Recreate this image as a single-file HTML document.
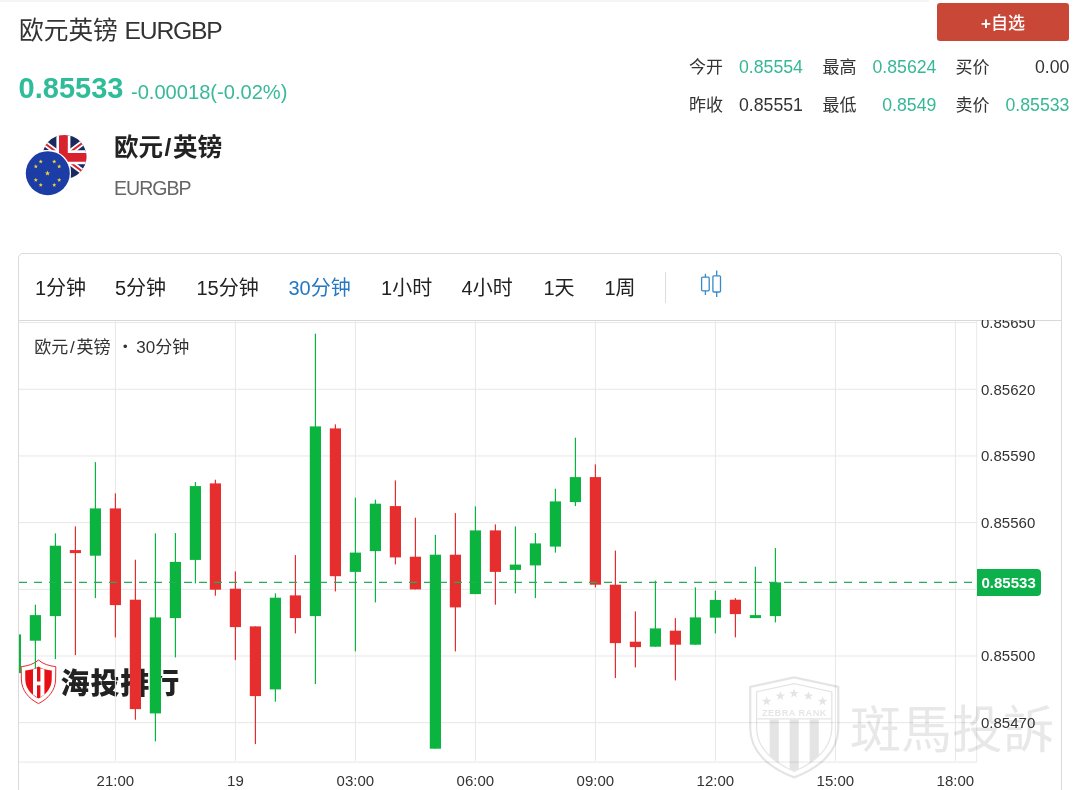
<!DOCTYPE html>
<html lang="zh-CN">
<head>
<meta charset="utf-8">
<title>欧元英镑 EURGBP</title>
<style>
html,body{margin:0;padding:0;background:#fff}
body{width:1074px;height:790px;position:relative;overflow:hidden;font-family:"Liberation Sans","Noto Sans CJK SC",sans-serif;color:#333}
.a{position:absolute;white-space:nowrap;line-height:1;margin:0;padding:0}

.topstrip{left:0;top:0;width:929px;height:1.5px;background:#f5f5f5}
.title{left:19px;top:18.5px;font-size:24.7px;color:#333;font-weight:400}
.title .l{letter-spacing:-0.05em}
.price{left:18.6px;top:74.2px;font-size:29px;font-weight:700;color:#2fbc99}
.chg{left:131px;top:82.2px;font-size:20.1px;color:#38b998}
.name{left:114px;top:136.3px;font-size:24.5px;font-weight:700;color:#222}
.code{left:114px;top:178.5px;font-size:19.5px;color:#666;letter-spacing:-0.05em}
.btn{left:937px;top:3px;width:132px;height:37.5px;background:#c94737;border-radius:3px;color:#fff;font-size:17px;font-weight:500;text-align:center;line-height:42.3px}
.st{font-size:17px;color:#333}
.r{text-align:right;font-size:17.7px;margin-top:-0.5px;margin-left:0.4px}
.teal{color:#36b796}
.card{left:18px;top:253px;width:1044px;height:560px;border:1px solid #dadada;border-radius:5px;box-sizing:border-box}
.sep{left:19px;top:319.8px;width:1042px;height:1px;background:#d8d8d8}
.tab{font-size:20px;color:#222;top:277.8px}
.tab.on{color:#2578c2}
.vsep{left:665px;top:272px;width:1px;height:31px;background:#ddd}
.legend{left:34.3px;top:338.6px;font-size:17px;color:#333}
.tl{font-size:15px;color:#333;top:772.8px;width:60px;text-align:center}
.pl{font-size:15px;color:#333;left:981px;margin-top:-0.5px}
.cur{left:977px;top:569px;width:64px;height:27px;background:#0db14b;border-radius:0 4px 4px 0;color:#fff;font-weight:700;font-size:15px;line-height:27px;text-indent:4.5px}
.wm1{left:60.5px;top:669.5px;font-size:29px;font-weight:900;color:#222;letter-spacing:0.9px}
.wm2{left:850px;top:704.5px;font-size:51px;color:#000;opacity:.085;font-weight:400}
</style>
</head>
<body>
<div class="a topstrip"></div>
<div class="a title">欧元英镑 <span class="l">EURGBP</span></div>
<div class="a price">0.85533</div>
<div class="a chg">-0.00018(-0.02%)</div>

<svg class="a" style="left:22px;top:132px" width="70" height="68" viewBox="22 132 70 68">
  <defs>
    <clipPath id="ukc"><circle cx="64.4" cy="156.9" r="22"/></clipPath>
  </defs>
  <circle cx="64.4" cy="156.9" r="22.8" fill="#fff"/>
  <g clip-path="url(#ukc)">
    <rect x="42" y="134" width="46" height="46" fill="#1b2a5e"/>
    <path d="M23.4 127.3 L103.4 187.3 M103.4 127.3 L23.4 187.3" stroke="#fff" stroke-width="5.6"/>
    <path d="M23.4 127.3 L103.4 187.3 M103.4 127.3 L23.4 187.3" stroke="#d8232f" stroke-width="2"/>
    <path d="M63.4 134 V180 M42 157.3 H88" stroke="#fff" stroke-width="14"/>
    <path d="M63.4 134 V180 M42 157.3 H88" stroke="#d8232f" stroke-width="8.8"/>
  </g>
  <circle cx="47.8" cy="173.2" r="23.2" fill="#fff"/>
  <circle cx="47.8" cy="173.2" r="22" fill="#1c3da6"/>
  <g fill="#f4d531" id="stars"><polygon points="47.50,170.60 48.17,172.38 50.07,172.47 48.58,173.65 49.09,175.48 47.50,174.43 45.91,175.48 46.42,173.65 44.93,172.47 46.83,172.38"/><polygon points="54.25,159.41 54.79,160.86 56.34,160.93 55.13,161.89 55.54,163.39 54.25,162.53 52.96,163.39 53.37,161.89 52.16,160.93 53.71,160.86"/><polygon points="59.19,164.35 59.73,165.80 61.28,165.87 60.07,166.84 60.48,168.33 59.19,167.47 57.90,168.33 58.31,166.84 57.10,165.87 58.65,165.80"/><polygon points="59.19,177.85 59.73,179.30 61.28,179.37 60.07,180.34 60.48,181.83 59.19,180.97 57.90,181.83 58.31,180.34 57.10,179.37 58.65,179.30"/><polygon points="54.25,182.79 54.79,184.24 56.34,184.31 55.13,185.28 55.54,186.77 54.25,185.92 52.96,186.77 53.37,185.28 52.16,184.31 53.71,184.24"/><polygon points="40.75,182.79 41.29,184.24 42.84,184.31 41.63,185.28 42.04,186.77 40.75,185.92 39.46,186.77 39.87,185.28 38.66,184.31 40.21,184.24"/><polygon points="35.81,177.85 36.35,179.30 37.90,179.37 36.69,180.34 37.10,181.83 35.81,180.97 34.52,181.83 34.93,180.34 33.72,179.37 35.27,179.30"/><polygon points="35.81,164.35 36.35,165.80 37.90,165.87 36.69,166.84 37.10,168.33 35.81,167.47 34.52,168.33 34.93,166.84 33.72,165.87 35.27,165.80"/><polygon points="40.75,159.41 41.29,160.86 42.84,160.93 41.63,161.89 42.04,163.39 40.75,162.53 39.46,163.39 39.87,161.89 38.66,160.93 40.21,160.86"/></g>
</svg>

<div class="a name">欧元<span style="margin:0 1.6px">/</span>英镑</div>
<div class="a code">EURGBP</div>

<div class="a btn"><b>+</b>自选</div>

<div class="a st" style="left:689px;top:59.3px">今开</div>
<div class="a st r teal" style="left:732px;width:70.5px;top:59.3px">0.85554</div>
<div class="a st" style="left:822.5px;top:59.3px">最高</div>
<div class="a st r teal" style="left:866px;width:70px;top:59.3px">0.85624</div>
<div class="a st" style="left:955.5px;top:59.3px">买价</div>
<div class="a st r" style="left:999px;width:70px;top:59.3px">0.00</div>
<div class="a st" style="left:689px;top:97.1px">昨收</div>
<div class="a st r" style="left:732px;width:70.5px;top:97.1px">0.85551</div>
<div class="a st" style="left:822.5px;top:97.1px">最低</div>
<div class="a st r teal" style="left:866px;width:70px;top:97.1px">0.8549</div>
<div class="a st" style="left:955.5px;top:97.1px">卖价</div>
<div class="a st r teal" style="left:999px;width:70px;top:97.1px">0.85533</div>

<div class="a card"></div>
<div class="a sep"></div>
<div class="a tab" style="left:35px">1分钟</div>
<div class="a tab" style="left:115px">5分钟</div>
<div class="a tab" style="left:196.5px">15分钟</div>
<div class="a tab on" style="left:288.5px">30分钟</div>
<div class="a tab" style="left:381.1px">1小时</div>
<div class="a tab" style="left:461.6px">4小时</div>
<div class="a tab" style="left:543.5px">1天</div>
<div class="a tab" style="left:604.5px">1周</div>
<div class="a vsep"></div>
<svg class="a" style="left:698px;top:268px" width="26" height="32" viewBox="698 268 26 32" fill="none" stroke="#3789c8" stroke-width="1.3">
  <rect x="701.6" y="277.2" width="7.6" height="13.6" rx="1"/>
  <path d="M705.4 273.7V277.2M705.4 290.8V294.9"/>
  <rect x="712.9" y="275.8" width="7.6" height="16.2" rx="1"/>
  <path d="M716.7 270.4V275.8M716.7 292V297.1"/>
</svg>

<!-- watermark logo (behind chart) -->
<svg class="a" style="left:19px;top:657px" width="40" height="50" viewBox="19 657 40 50">
  <path d="M38.5 660 C34.5 663.8 27.5 666.2 21.2 666.6 L21.4 680 C21.9 690.5 28.5 698.5 38.5 703.6 C48.5 698.5 55.1 690.5 55.6 680 L55.8 666.6 C49.5 666.2 42.5 663.8 38.5 660Z" fill="#fff" stroke="#ea2a30" stroke-width="1"/>
  <path d="M38.5 666.6 C35.5 668.7 30 670.3 25.2 670.6 L25.3 680 C25.7 688 30.5 694.3 38.5 698.6 C46.5 694.3 51.3 688 51.7 680 L51.8 670.6 C47 670.3 41.5 668.7 38.5 666.6Z" fill="#e60f14"/>
  <path d="M33 669.6 L37 668.2 V681.4 H40.4 V668.2 L44.4 669.6 V694.6 L40.4 697.2 V685.2 H37 V697.2 L33 694.6Z" fill="#fff"/>
</svg>
<div class="a wm1">海投排行</div>

<svg class="a" style="left:19px;top:320.9px" width="1043" height="442" viewBox="0 0 1043 442">
<rect x="95.9" y="0" width="1" height="440" fill="#e7e7e7"/>
<rect x="215.9" y="0" width="1" height="440" fill="#e7e7e7"/>
<rect x="335.9" y="0" width="1" height="440" fill="#e7e7e7"/>
<rect x="455.9" y="0" width="1" height="440" fill="#e7e7e7"/>
<rect x="575.9" y="0" width="1" height="440" fill="#e7e7e7"/>
<rect x="695.9" y="0" width="1" height="440" fill="#e7e7e7"/>
<rect x="815.9" y="0" width="1" height="440" fill="#e7e7e7"/>
<rect x="935.9" y="0" width="1" height="440" fill="#e7e7e7"/>
<rect x="0" y="1.1" width="957.5" height="1" fill="#e7e7e7"/>
<rect x="0" y="67.78" width="957.5" height="1" fill="#e7e7e7"/>
<rect x="0" y="134.46" width="957.5" height="1" fill="#e7e7e7"/>
<rect x="0" y="201.14" width="957.5" height="1" fill="#e7e7e7"/>
<rect x="0" y="267.82" width="957.5" height="1" fill="#e7e7e7"/>
<rect x="0" y="334.5" width="957.5" height="1" fill="#e7e7e7"/>
<rect x="0" y="401.18" width="957.5" height="1" fill="#e7e7e7"/>
<rect x="-4.2" y="313.4" width="1.2" height="38.7" fill="#0bb43f"/>
<rect x="-9.2" y="313.4" width="11.2" height="38.7" fill="#0bb43f"/>
<rect x="15.8" y="283.7" width="1.2" height="63.7" fill="#0bb43f"/>
<rect x="10.8" y="294.1" width="11.2" height="25.6" fill="#0bb43f"/>
<rect x="35.8" y="212.4" width="1.2" height="125.7" fill="#0bb43f"/>
<rect x="30.8" y="224.7" width="11.2" height="70.4" fill="#0bb43f"/>
<rect x="55.8" y="205.4" width="1.2" height="128.7" fill="#e62e2e"/>
<rect x="50.8" y="229.1" width="11.2" height="3" fill="#e62e2e"/>
<rect x="75.8" y="141.1" width="1.2" height="136" fill="#0bb43f"/>
<rect x="70.8" y="187.4" width="11.2" height="47.3" fill="#0bb43f"/>
<rect x="95.8" y="172.4" width="1.2" height="144" fill="#e62e2e"/>
<rect x="90.8" y="187.4" width="11.2" height="96.7" fill="#e62e2e"/>
<rect x="115.8" y="238.7" width="1.2" height="160" fill="#e62e2e"/>
<rect x="110.8" y="278.7" width="11.2" height="109.4" fill="#e62e2e"/>
<rect x="135.8" y="212.4" width="1.2" height="208" fill="#0bb43f"/>
<rect x="130.8" y="296.4" width="11.2" height="96" fill="#0bb43f"/>
<rect x="155.8" y="212.1" width="1.2" height="124.3" fill="#0bb43f"/>
<rect x="150.8" y="240.9" width="11.2" height="56.2" fill="#0bb43f"/>
<rect x="175.8" y="161.1" width="1.2" height="101.3" fill="#0bb43f"/>
<rect x="170.8" y="165.1" width="11.2" height="73.8" fill="#0bb43f"/>
<rect x="195.8" y="158.7" width="1.2" height="116" fill="#e62e2e"/>
<rect x="190.8" y="162.4" width="11.2" height="106.3" fill="#e62e2e"/>
<rect x="215.8" y="250.4" width="1.2" height="88.7" fill="#e62e2e"/>
<rect x="210.8" y="267.7" width="11.2" height="38.4" fill="#e62e2e"/>
<rect x="235.8" y="305.4" width="1.2" height="117.7" fill="#e62e2e"/>
<rect x="230.8" y="305.4" width="11.2" height="69.7" fill="#e62e2e"/>
<rect x="255.8" y="272.4" width="1.2" height="108.3" fill="#0bb43f"/>
<rect x="250.8" y="276.7" width="11.2" height="91.7" fill="#0bb43f"/>
<rect x="275.8" y="234.1" width="1.2" height="78.3" fill="#e62e2e"/>
<rect x="270.8" y="274.4" width="11.2" height="22.7" fill="#e62e2e"/>
<rect x="295.8" y="12.7" width="1.2" height="350.4" fill="#0bb43f"/>
<rect x="290.8" y="105.4" width="11.2" height="189.7" fill="#0bb43f"/>
<rect x="315.8" y="103.4" width="1.2" height="167" fill="#e62e2e"/>
<rect x="310.8" y="107.4" width="11.2" height="147.8" fill="#e62e2e"/>
<rect x="335.8" y="176.7" width="1.2" height="153.7" fill="#0bb43f"/>
<rect x="330.8" y="231.6" width="11.2" height="19.3" fill="#0bb43f"/>
<rect x="355.8" y="178.7" width="1.2" height="102.7" fill="#0bb43f"/>
<rect x="350.8" y="182.7" width="11.2" height="47.4" fill="#0bb43f"/>
<rect x="375.8" y="159.4" width="1.2" height="84" fill="#e62e2e"/>
<rect x="370.8" y="185.1" width="11.2" height="51.3" fill="#e62e2e"/>
<rect x="395.8" y="196.7" width="1.2" height="71.7" fill="#e62e2e"/>
<rect x="390.8" y="235.7" width="11.2" height="32.7" fill="#e62e2e"/>
<rect x="415.8" y="213.9" width="1.2" height="213.8" fill="#0bb43f"/>
<rect x="410.8" y="233.7" width="11.2" height="194" fill="#0bb43f"/>
<rect x="435.8" y="192.1" width="1.2" height="138.3" fill="#e62e2e"/>
<rect x="430.8" y="233.7" width="11.2" height="52.7" fill="#e62e2e"/>
<rect x="455.8" y="185.4" width="1.2" height="87.7" fill="#0bb43f"/>
<rect x="450.8" y="209.4" width="11.2" height="63.7" fill="#0bb43f"/>
<rect x="475.8" y="203.4" width="1.2" height="80.3" fill="#e62e2e"/>
<rect x="470.8" y="209.4" width="11.2" height="41.5" fill="#e62e2e"/>
<rect x="495.8" y="205.4" width="1.2" height="67" fill="#0bb43f"/>
<rect x="490.8" y="243.6" width="11.2" height="5.3" fill="#0bb43f"/>
<rect x="515.8" y="212.1" width="1.2" height="65" fill="#0bb43f"/>
<rect x="510.8" y="222.4" width="11.2" height="22" fill="#0bb43f"/>
<rect x="535.8" y="167.7" width="1.2" height="63.9" fill="#0bb43f"/>
<rect x="530.8" y="180.4" width="11.2" height="45.2" fill="#0bb43f"/>
<rect x="555.8" y="116.7" width="1.2" height="68.4" fill="#0bb43f"/>
<rect x="550.8" y="156.1" width="11.2" height="25" fill="#0bb43f"/>
<rect x="575.8" y="143.4" width="1.2" height="123" fill="#e62e2e"/>
<rect x="570.8" y="156.1" width="11.2" height="107.6" fill="#e62e2e"/>
<rect x="595.8" y="229.6" width="1.2" height="127.5" fill="#e62e2e"/>
<rect x="590.8" y="263.7" width="11.2" height="58.4" fill="#e62e2e"/>
<rect x="615.8" y="290.4" width="1.2" height="56" fill="#e62e2e"/>
<rect x="610.8" y="320.7" width="11.2" height="5.4" fill="#e62e2e"/>
<rect x="635.8" y="259.7" width="1.2" height="66" fill="#0bb43f"/>
<rect x="630.8" y="307.4" width="11.2" height="18.3" fill="#0bb43f"/>
<rect x="655.8" y="297.1" width="1.2" height="62.3" fill="#e62e2e"/>
<rect x="650.8" y="309.7" width="11.2" height="14" fill="#e62e2e"/>
<rect x="675.8" y="266.4" width="1.2" height="57.3" fill="#0bb43f"/>
<rect x="670.8" y="296.4" width="11.2" height="27.3" fill="#0bb43f"/>
<rect x="695.8" y="269.7" width="1.2" height="42.7" fill="#0bb43f"/>
<rect x="690.8" y="278.9" width="11.2" height="17.8" fill="#0bb43f"/>
<rect x="715.8" y="277.1" width="1.2" height="39.3" fill="#e62e2e"/>
<rect x="710.8" y="278.7" width="11.2" height="14.4" fill="#e62e2e"/>
<rect x="735.8" y="245.7" width="1.2" height="51.4" fill="#0bb43f"/>
<rect x="730.8" y="294.1" width="11.2" height="3" fill="#0bb43f"/>
<rect x="755.8" y="227.1" width="1.2" height="74.3" fill="#0bb43f"/>
<rect x="750.8" y="261.4" width="11.2" height="33.7" fill="#0bb43f"/>
<line x1="0" y1="261.4" x2="958" y2="261.4" stroke="#27ad58" stroke-width="1.4" stroke-dasharray="8 7"/>
<rect x="0" y="440.5" width="958" height="1.2" fill="#ececec"/>
<rect x="957.2" y="0" width="1" height="441" fill="#e9e9e9"/>
</svg>

<div class="a legend">欧元<span style="margin:0 1.7px">/</span>英镑<span style="margin:0 2.6px 0 6.3px">・</span>30分钟</div>

<div class="a pl" style="top:320.8px;height:12px;overflow:hidden"><span style="position:relative;top:-5.8px">0.85650</span></div>
<div class="a pl" style="top:382px">0.85620</div>
<div class="a pl" style="top:448.7px">0.85590</div>
<div class="a pl" style="top:515.3px">0.85560</div>
<div class="a pl" style="top:648.7px">0.85500</div>
<div class="a pl" style="top:715.3px">0.85470</div>
<div class="a cur">0.85533</div>

<div class="a tl" style="left:85.4px">21:00</div>
<div class="a tl" style="left:205.4px">19</div>
<div class="a tl" style="left:325.4px">03:00</div>
<div class="a tl" style="left:445.4px">06:00</div>
<div class="a tl" style="left:565.4px">09:00</div>
<div class="a tl" style="left:685.4px">12:00</div>
<div class="a tl" style="left:805.4px">15:00</div>
<div class="a tl" style="left:925.4px">18:00</div>

<!-- zebra watermark -->
<svg class="a" style="left:746px;top:673px;opacity:.1" width="98" height="108" viewBox="746 673 98 108" fill="none" stroke="#000">
  <path d="M794.2 677.3 L838.3 686.8 V728 C838.3 752 819 768 794.2 777.4 C769.4 768 750.2 752 750.2 728 V686.8 Z" stroke-width="2.2" stroke-linejoin="round"/>
  <path d="M794.2 683.6 L831.8 691.8 V728 C831.8 748 815 762.5 794.2 771.5 C773.4 762.5 756.6 748 756.6 728 V691.8 Z" stroke-width="1.3" stroke-linejoin="round"/>
  <path d="M757.3 718.8 H831.1" stroke-width="1.3"/>
  <g stroke="none" fill="#000">
    <path d="M769.6 719.6h9.2v44l-9.2-8zM789.6 719.6h9.2v49.5l-4.6 2-4.6-2zM809.6 719.6h9.2v36l-9.2 8z"/>
    <text x="794.4" y="716.1" font-family="'Liberation Sans',sans-serif" font-weight="700" font-size="9.2" text-anchor="middle" letter-spacing="0.45">ZEBRA RANK</text>
    <polygon points="766.6,696.3 767.8,699.7 771.4,699.8 768.5,701.9 769.5,705.3 766.6,703.3 763.7,705.3 764.7,701.9 761.8,699.8 765.4,699.7"/><polygon points="780.3,691.1 781.5,694.5 785.1,694.6 782.2,696.7 783.2,700.1 780.3,698.1 777.4,700.1 778.4,696.7 775.5,694.6 779.1,694.5"/><polygon points="794.0,688.5 795.2,691.9 798.8,692.0 795.9,694.1 796.9,697.5 794.0,695.5 791.1,697.5 792.1,694.1 789.2,692.0 792.8,691.9"/><polygon points="808.4,691.1 809.6,694.5 813.2,694.6 810.3,696.7 811.3,700.1 808.4,698.1 805.5,700.1 806.5,696.7 803.6,694.6 807.2,694.5"/><polygon points="822.6,696.3 823.8,699.7 827.4,699.8 824.5,701.9 825.5,705.3 822.6,703.3 819.7,705.3 820.7,701.9 817.8,699.8 821.4,699.7"/>
  </g>
</svg>
<div class="a wm2">斑馬投訴</div>
</body>
</html>
